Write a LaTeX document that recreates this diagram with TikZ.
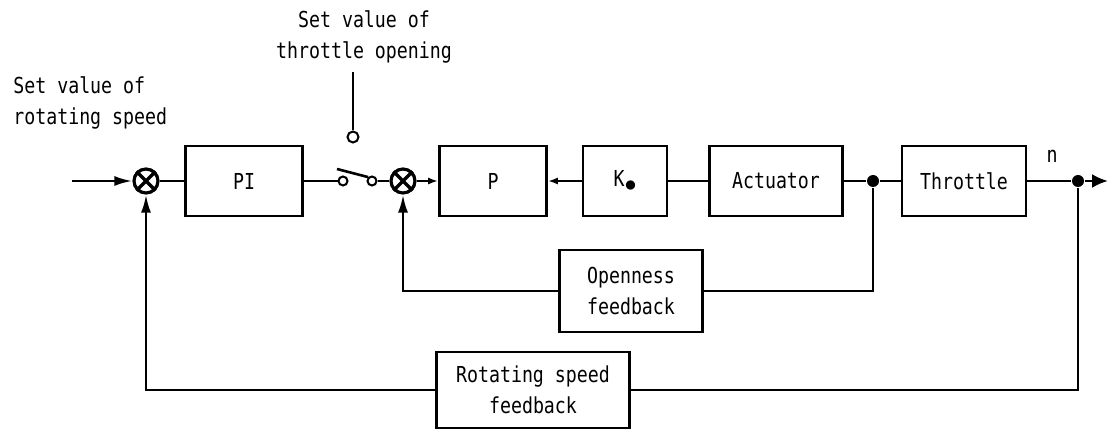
\documentclass[tikz,border=0pt]{standalone}
\usepackage{fontspec}
\usetikzlibrary{arrows.meta}
\newfontfamily\dotfont[FakeStretch=0.83]{DejaVu Sans Mono}

\begin{document}
\begin{tikzpicture}[x=0.5pt, y=-0.5pt, line width=1.3pt,
	font=\dotfont\fontsize{11}{15.5}\selectfont,
	block/.style={draw, rectangle, minimum height=35pt, inner sep=0pt, align=center},
	sum/.style={draw, circle, minimum size=12pt, inner sep=0pt, line width=1.6pt},
	contact/.style={draw, circle, minimum size=4.5pt, inner sep=0pt, line width=1pt},
	dot/.style={fill, circle, minimum size=6pt, inner sep=0pt},
	>={Latex[length=9pt, width=5pt]}]
	\useasboundingbox (0,0) rectangle (1108,432);

	%Inputs
	\node[inner sep=0pt, anchor=west, align=left] (20) at (12,103) {Set value of\\rotating speed};
	\node[inner sep=0pt, align=center] (21) at (364,37) {Set value of\\throttle opening};
	\node[inner sep=0pt] (22) at (1052,156) {n};

	%Forward path
	\node[sum] (0) at (146,181) {};
	\node[block, minimum width=58.5pt] (1) at (244,181) {PI};
	\node[contact] (2) at (343,181) {};
	\node[contact] (3) at (372,181) {};
	\node[contact, minimum size=5.5pt] (4) at (353,137) {};
	\node[sum] (5) at (403,181) {};
	\node[block, minimum width=53.5pt] (6) at (493,181) {P};
	\node[block, minimum width=42pt] (7) at (625,181) {K\raisebox{-2.5pt}{\large$\bullet$}};
	\node[block, minimum width=66.5pt] (8) at (776,181) {Actuator};
	\node[dot] (9) at (873,181) {};
	\node[block, minimum width=62pt] (10) at (964,181) {Throttle};
	\node[dot] (11) at (1078,181) {};
	\coordinate (in) at (72,181);
	\coordinate (out) at (1108,181);
	\coordinate (top) at (353,72);
	\coordinate (blade) at (337,169);
	\foreach \s in {0,5}
		\draw[line width=1.6pt] (\s.45) -- (\s.225) (\s.135) -- (\s.315);
	\draw[->] (in) -- (0);
	\draw (0) -- (1);
	\draw (1) -- (2);
	\draw (blade) -- (3.north west);
	\draw (3) -- (5);
	\draw (4) -- (top);
	\draw[->, >={Latex[length=5pt, width=3.5pt]}] (5) -- (6);
	\draw[->, >={Latex[length=5pt, width=3.5pt]}] (7) -- (6);
	\draw (7) -- (8);
	\draw (8) -- (9);
	\draw (9) -- (10);
	\draw (10) -- (11);
	\draw[->, >={Latex[length=8pt, width=7pt]}] (11) -- (out);

	%Feedback
	\node[block, minimum width=71.5pt, minimum height=41pt] (12) at (631,291) {Openness\\feedback};
	\node[block, minimum width=96.5pt, minimum height=38pt] (13) at (533,390) {Rotating speed\\feedback};
	\draw (9) |- (12);
	\draw[->] (12) -| (5);
	\draw (11) |- (13);
	\draw[->] (13) -| (0);
\end{tikzpicture}
\end{document}
